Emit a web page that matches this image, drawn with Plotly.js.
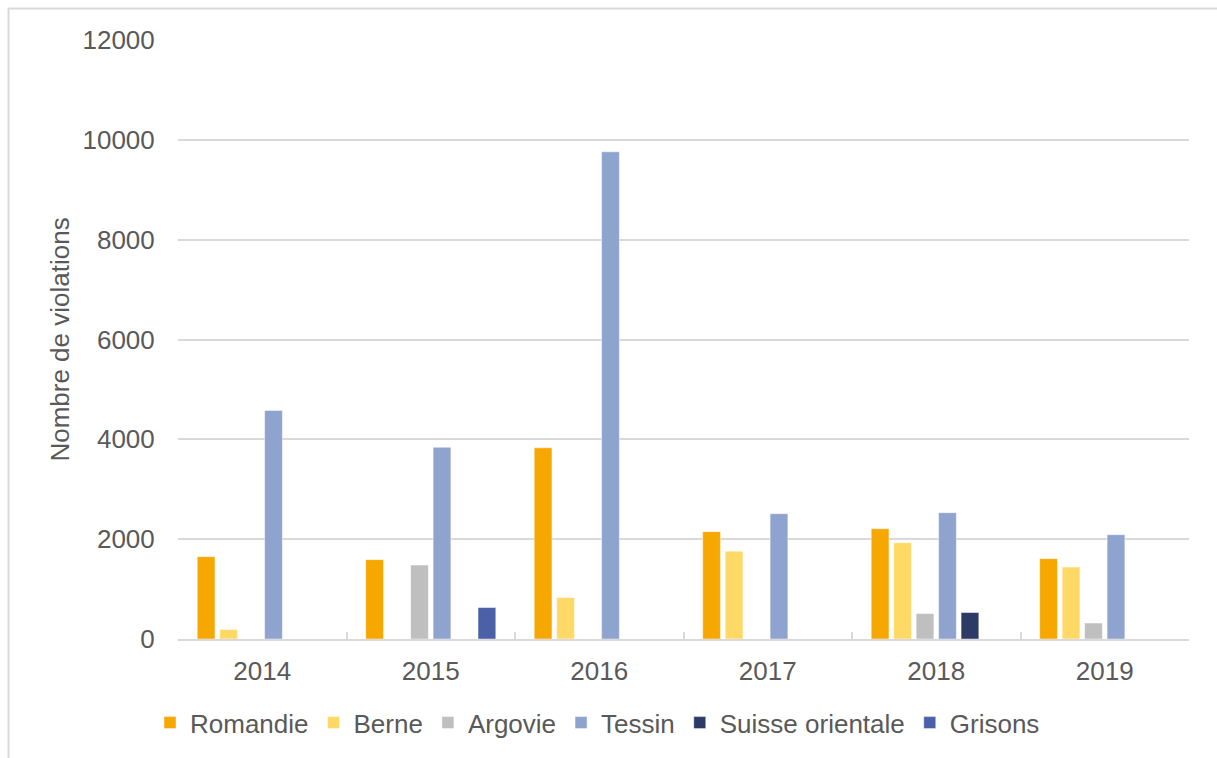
<!DOCTYPE html>
<html>
<head>
<meta charset="utf-8">
<script src="https://cdn.plot.ly/plotly-3.0.1.min.js"></script>
<style>
  html, body { margin: 0; padding: 0; background: #ffffff; }
  #chart { width: 1217px; height: 758px; }
</style>
</head>
<body>
<div id="chart"></div>
<script>
// ---- Data ----
const years = ["2014", "2015", "2016", "2017", "2018", "2019"];
const romandie        = [1650, 1590, 3830, 2150, 2210, 1610];
const berne           = [190, null, 830, 1760, 1930, 1440];
const argovie         = [null, 1480, null, null, 510, 320];
const tessin          = [4580, 3840, 9760, 2510, 2530, 2090];
const suisseOrientale = [null, null, null, null, 530, null];
const grisons         = [null, 630, null, null, null, null];

const seriesNames  = ["Romandie", "Berne", "Argovie", "Tessin", "Suisse orientale", "Grisons"];
const seriesValues = [romandie, berne, argovie, tessin, suisseOrientale, grisons];
const seriesColors = ["#F7A800", "#FFD966", "#BFBFBF", "#8FA3CF", "#2C3A66", "#4A60A7"];

const FONT = "Arial, 'Liberation Sans', sans-serif";
const TXT = "#595959";
const FS = 26;

const traces = seriesNames.map((name, i) => ({
  type: "bar",
  name: name,
  x: years,
  y: seriesValues[i],
  marker: { color: seriesColors[i], line: { color: "rgba(255,255,255,0.45)", width: 1 } },
  hoverinfo: "x+y+name"
}));

// plot area geometry in pixels
const W = 1217, H = 758;
const L = 178, R = 28, T = 40, B = 117;
const pw = W - L - R, ph = H - T - B;
const px = v => (v - L) / pw;
const py = v => (H - B - v) / ph;

const layout = {
  width: W, height: H,
  margin: { l: L, r: R, t: T, b: B, pad: 0 },
  paper_bgcolor: "#ffffff",
  plot_bgcolor: "#ffffff",
  font: { family: FONT, color: TXT, size: FS },
  barmode: "group",
  bargap: 0.2,
  bargroupgap: 0.21,
  showlegend: true,
  legend: {
    orientation: "h",
    x: px(150), xanchor: "left",
    y: py(725), yanchor: "middle",
    font: { family: FONT, color: TXT, size: FS },
    itemwidth: 30,
    traceorder: "normal"
  },
  xaxis: {
    type: "category",
    showgrid: false,
    showline: true,
    linecolor: "#D9D9D9",
    linewidth: 2,
    ticks: "inside",
    tickson: "boundaries",
    ticklen: 7,
    tickwidth: 2,
    tickcolor: "#D9D9D9",
    ticklabelstandoff: 8,
    tickfont: { family: FONT, color: TXT, size: FS },
    zeroline: false,
    fixedrange: true
  },
  yaxis: {
    range: [0, 12000],
    tickvals: [0, 2000, 4000, 6000, 8000, 10000, 12000],
    ticktext: ["0", "2000", "4000", "6000", "8000", "10000", "12000"],
    showgrid: true,
    gridcolor: "#D9D9D9",
    gridwidth: 1.5,
    showline: false,
    zeroline: false,
    ticks: "outside",
    ticklen: 17,
    tickcolor: "rgba(0,0,0,0)",
    tickfont: { family: FONT, color: TXT, size: FS },
    title: { text: "Nombre de violations", font: { family: FONT, color: TXT, size: FS }, standoff: 5 },
    fixedrange: true
  },
  shapes: [
    { type: "line", xref: "paper", yref: "paper", x0: px(8), x1: px(W + 5), y0: py(8.5), y1: py(8.5),
      line: { color: "#D9D9D9", width: 2 } },
    { type: "line", xref: "paper", yref: "paper", x0: px(8.5), x1: px(8.5), y0: py(8), y1: py(H + 5),
      line: { color: "#D9D9D9", width: 2 } }
  ]
};

Plotly.newPlot("chart", traces, layout, { displayModeBar: false, responsive: false });
</script>
</body>
</html>
